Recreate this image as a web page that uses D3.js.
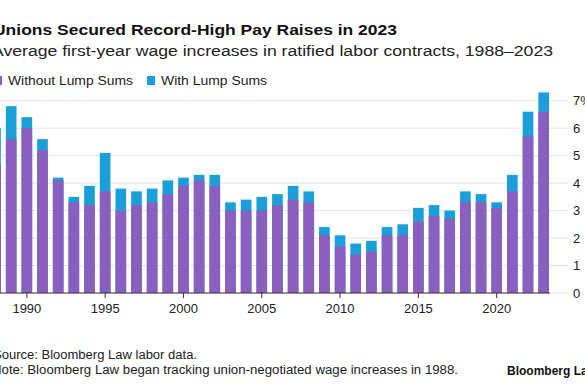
<!DOCTYPE html>
<html lang="en">
<head>
<meta charset="utf-8"/>
<title>Union pay raises</title>
<script src="https://d3js.org/d3.v7.min.js"></script>
<style>
  body { margin: 0; background: #fff; font-family: "Liberation Sans", Arial, sans-serif; }
  svg { display: block; }
</style>
</head>
<body>
<div id="chart"></div>
<script>
// years, base raise (without lump sums) and total (with lump sums)
const years = d3.range(1988, 2024)
const withoutLump = [4.7, 5.6, 6.0, 5.2, 4.1, 3.3, 3.2, 3.7, 3.0, 3.2, 3.3, 3.6, 3.9, 4.1, 3.9, 3.0, 3.0, 3.0,
                     3.2, 3.4, 3.3, 2.1, 1.7, 1.4, 1.5, 2.1, 2.1, 2.6, 2.8, 2.7, 3.3, 3.3, 3.1, 3.7, 5.7, 6.6]
const withLump = [6.0, 6.8, 6.4, 5.6, 4.2, 3.5, 3.9, 5.1, 3.8, 3.7, 3.8, 4.1, 4.2, 4.3, 4.3, 3.3, 3.4, 3.5,
                  3.6, 3.9, 3.7, 2.4, 2.1, 1.8, 1.9, 2.4, 2.5, 3.1, 3.2, 3.0, 3.7, 3.6, 3.3, 4.3, 6.6, 7.3]
const yTicks = [0, 1, 2, 3, 4, 5, 6, 7]
const xTicks = [1990, 1995, 2000, 2005, 2010, 2015, 2020]

const W = 585, H = 390
const purple = "#8b5fbf", blue = "#1b9fda"

const svg = d3.select("#chart").append("svg").attr("width", W).attr("height", H)

// helper: text stretched to the width it has in the source (its font is wider)
function label(x, y, size, len, txt, bold) {
  return svg.append("text").attr("x", x).attr("y", y)
    .style("font-size", size + "px").style("font-weight", bold ? "bold" : "normal")
    .attr("fill", bold ? "#111" : "#222")
    .attr("textLength", len).attr("lengthAdjust", "spacingAndGlyphs")
    .text(txt)
}

// titles (the source image is clipped on the left)
label(-7, 35, 15.5, 404, "Unions Secured Record-High Pay Raises in 2023", true)
label(-8, 56, 15.5, 561, "Average first-year wage increases in ratified labor contracts, 1988\u20132023")

// legend
const legend = [["Without Lump Sums", purple, -6, 125], ["With Lump Sums", blue, 147, 106]]
const lg = svg.selectAll("g.lg").data(legend).join("g").attr("class", "lg")
  .attr("transform", d => `translate(${d[2]},76)`)
lg.append("rect").attr("width", 8).attr("height", 9).attr("fill", d => d[1])
lg.append("text").attr("x", 14).attr("y", 8.5)
  .style("font-size", "13.5px").attr("fill", "#222")
  .attr("textLength", d => d[3]).attr("lengthAdjust", "spacingAndGlyphs")
  .text(d => d[0])

// scales
const x = d3.scaleBand().domain(years).range([-12.3, 551.5]).paddingInner(0.32).paddingOuter(0.16)
const y = d3.scaleLinear().domain([0, 7]).range([293, 100.7])

// gridlines
svg.append("g").selectAll("line").data(yTicks).join("line")
  .attr("x1", 0).attr("x2", 568)
  .attr("y1", d => y(d)).attr("y2", d => y(d))
  .attr("stroke", "#e3e3e3").attr("stroke-width", 1)

// right axis labels
svg.append("g").selectAll("text").data(yTicks).join("text")
  .attr("x", 573).attr("y", d => y(d)).attr("dy", "0.35em")
  .style("font-size", "13px").attr("fill", "#222")
  .text(d => d === 7 ? "7%" : d)

// bars: total first, base on top
svg.append("g").selectAll("rect").data(years).join("rect")
  .attr("x", d => x(d)).attr("width", x.bandwidth())
  .attr("y", (d, i) => y(withLump[i])).attr("height", (d, i) => y(0) - y(withLump[i]))
  .attr("fill", blue)
svg.append("g").selectAll("rect").data(years).join("rect")
  .attr("x", d => x(d)).attr("width", x.bandwidth())
  .attr("y", (d, i) => y(withoutLump[i])).attr("height", (d, i) => y(0) - y(withoutLump[i]))
  .attr("fill", purple)

// baseline and x axis
svg.append("line").attr("x1", 0).attr("x2", 550).attr("y1", y(0)).attr("y2", y(0))
  .attr("stroke", "#333").attr("stroke-width", 1)
const xa = svg.append("g").attr("transform", `translate(0,${y(0)})`)
  .call(d3.axisBottom(x).tickValues(xTicks).tickSize(5).tickPadding(6))
xa.select(".domain").remove()
xa.selectAll("line").attr("stroke", "#333")
xa.selectAll("text").style("font-size", "13px").style("font-family", "Liberation Sans, Arial, sans-serif").attr("fill", "#222")

// footer
label(-7, 359, 12.5, 204, "Source: Bloomberg Law labor data.")
label(-8, 374, 12.5, 466, "Note: Bloomberg Law began tracking union-negotiated wage increases in 1988.")
svg.append("text").attr("x", 507).attr("y", 375).style("font-size", "12px").style("font-weight", "bold").attr("fill", "#111")
   .text("Bloomberg Law")
</script>
</body>
</html>
